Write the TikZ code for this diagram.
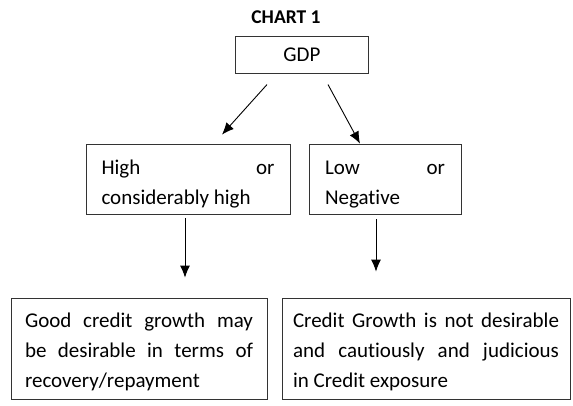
\documentclass[tikz,border=0pt]{standalone}
\usepackage{fontspec}
\setmainfont[Ligatures={NoCommon}]{Carlito}
\usetikzlibrary{arrows.meta}

\tikzset{
  box/.style={draw=black!80, line width=0.8pt, align=justify, inner ysep=0pt,
    font=\fontsize{21}{30}\selectfont},
  arr/.style={-{Latex[length=12pt,width=10pt]}, line width=0.9pt},
}
\newcommand{\lift}[1]{\rule{0pt}{#1}}

\begin{document}
\begin{tikzpicture}[x=1pt,y=-1pt]
    \useasboundingbox (0,0) rectangle (573,405);
    % heading and top box
    \node[font=\bfseries\fontsize{19.5}{22}\selectfont] (title) at (286,17) {CHART 1};
    \node[draw=black!80, line width=0.8pt, minimum width=132.6pt, minimum height=36.3pt,
      inner sep=0pt, font=\fontsize{21}{24}\selectfont] (gdp) at (302,55) {GDP};
    % middle row
    \node[box, inner xsep=15.5pt, text width=173pt, minimum height=70pt] (high) at (188,179)
      {\lift{24pt}High\hfill or\\considerably high};
    \node[box, inner xsep=16pt, text width=120pt, minimum height=70pt] (low) at (385,179)
      {\lift{24pt}Low\hfill or\\Negative};
    % bottom row
    \node[box, inner xsep=14pt, text width=228pt, minimum height=101pt] (good) at (139,348.5)
      {\lift{21pt}Good credit growth may\linebreak be desirable in terms of\linebreak recovery/repayment};
    \node[box, inner xsep=11pt, text width=266pt, minimum height=101pt] (caution) at (426,348.5)
      {\lift{21pt}Credit Growth is not desirable\linebreak and cautiously and judicious\linebreak in Credit exposure};
    % arrows
    \draw[arr] ([xshift=-35pt,yshift=-11pt]gdp.south) -- ([xshift=34pt,yshift=9pt]high.north);
    \draw[arr] ([xshift=26pt,yshift=-11pt]gdp.south) -- ([xshift=-25pt]low.north);
    \draw[arr] ([xshift=-3pt,yshift=-4pt]high.south) -- ([xshift=46pt,yshift=20pt]good.north);
    \draw[arr] ([xshift=-9pt,yshift=-5pt]low.south) -- ([xshift=-50pt,yshift=26pt]caution.north);
\end{tikzpicture}
\end{document}
